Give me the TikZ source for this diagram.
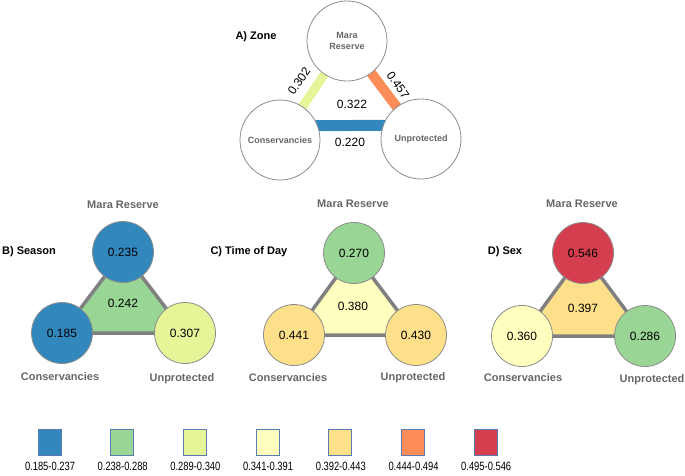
\documentclass[tikz,border=0pt]{standalone}
\usepackage{fontspec}
\setmainfont{Liberation Sans}
\usetikzlibrary{backgrounds}
\definecolor{cBlue}{HTML}{3288BD}
\definecolor{cGreen}{HTML}{99D594}
\definecolor{cYG}{HTML}{E6F598}
\definecolor{cLY}{HTML}{FFFFBF}
\definecolor{cY}{HTML}{FEE08B}
\definecolor{cOr}{HTML}{FC8D59}
\definecolor{cRed}{HTML}{D53E4F}
\definecolor{labGray}{HTML}{666666}
\definecolor{triGray}{HTML}{808080}
\definecolor{circGray}{HTML}{8C8C8C}
\definecolor{legBorder}{HTML}{5B7BB0}
\tikzset{
  circA/.style={circle, draw=circGray, line width=0.8pt, fill=white, minimum size=80pt, inner sep=0pt, align=center, font=\bfseries\fontsize{9}{10.5}\selectfont, text=labGray},
  circ/.style={circle, draw=circGray, line width=0.8pt, minimum size=61pt, inner sep=0pt, font=\fontsize{12}{14}\selectfont},
  lab/.style={font=\bfseries\fontsize{11}{13}\selectfont, text=labGray},
  ptitle/.style={font=\bfseries\fontsize{11}{13}\selectfont},
  val/.style={font=\fontsize{12}{14}\selectfont},
  tri/.style={draw=triGray, line width=3.5pt, line join=round},
  legbox/.style={draw=legBorder, line width=0.8pt, minimum width=23pt, minimum height=26pt, inner sep=0pt},
  leglab/.style={font=\fontsize{12}{14}\selectfont, xscale=0.78}
}
\begin{document}
\begin{tikzpicture}[x=1pt,y=-1pt]
\useasboundingbox (0,0) rectangle (685,475);
% ---------- Panel A ----------
\node[ptitle] (tA) at (256,37) {A) Zone};
\node[circA] (am) at (347,41) {Mara\\Reserve};
\node[circA] (ac) at (280,140) {Conservancies};
\node[circA] (au) at (421,139) {Unprotected};
\begin{pgfonlayer}{background}
\draw[cYG, line width=9pt] (ac.center) -- (am.center);
\draw[cOr, line width=10pt] (au.center) -- (am.center);
\draw[cBlue, line width=11pt] ([yshift=14pt]ac.center) -- ([yshift=14pt]au.center);
\end{pgfonlayer}
\node[val, rotate=55] (v302) at (299,81) {0.302};
\node[val, rotate=-55] (v457) at (398,85) {0.457};
\node[val] (v322) at (352,104) {0.322};
\node[val] (v220) at (350,142) {0.220};
% ---------- Panel B ----------
\node[ptitle] (tB) at (29,252) {B) Season};
\coordinate (bm0) at (123,252);
\coordinate (bc0) at (62,333);
\coordinate (bu0) at (185,333);
\filldraw[tri, fill=cGreen] (bm0) -- (bc0) -- (bu0) -- cycle;
\node[circ, fill=cBlue] (bm) at (bm0) {0.235};
\node[circ, fill=cBlue] (bc) at (bc0) {0.185};
\node[circ, fill=cYG] (bu) at (bu0) {0.307};
\node[val] (bv) at (123,303) {0.242};
\node[lab] (bml) at (123,205) {Mara Reserve};
\node[lab] (bcl) at (60,377) {Conservancies};
\node[lab] (bul) at (182,379) {Unprotected};
% ---------- Panel C ----------
\node[ptitle, anchor=west] (tC) at (207,252) {C) Time of Day};
\coordinate (cm0) at (354,253);
\coordinate (cc0) at (294,335);
\coordinate (cu0) at (416,335);
\filldraw[tri, fill=cLY] (cm0) -- (cc0) -- (cu0) -- cycle;
\node[circ, fill=cGreen] (cm) at (cm0) {0.270};
\node[circ, fill=cY] (cc) at (cc0) {0.441};
\node[circ, fill=cY] (cu) at (cu0) {0.430};
\node[val] (cv) at (353,306) {0.380};
\node[lab] (cml) at (353,204) {Mara Reserve};
\node[lab] (ccl) at (288,378) {Conservancies};
\node[lab] (cul) at (413,378) {Unprotected};
% ---------- Panel D ----------
\node[ptitle] (tD) at (505,252) {D) Sex};
\coordinate (dm0) at (583,253);
\coordinate (dc0) at (522,336);
\coordinate (du0) at (645,336);
\filldraw[tri, fill=cY] (dm0) -- (dc0) -- (du0) -- cycle;
\node[circ, fill=cRed] (dm) at (dm0) {0.546};
\node[circ, fill=cLY] (dc) at (dc0) {0.360};
\node[circ, fill=cGreen] (du) at (du0) {0.286};
\node[val] (dv) at (583,308) {0.397};
\node[lab] (dml) at (582,204) {Mara Reserve};
\node[lab] (dcl) at (523,378) {Conservancies};
\node[lab] (dul) at (652,380) {Unprotected};
% ---------- Legend ----------
\foreach \c/\t [count=\i from 0] in {cBlue/0.185-0.237, cGreen/0.238-0.288, cYG/0.289-0.340, cLY/0.341-0.391, cY/0.392-0.443, cOr/0.444-0.494, cRed/0.495-0.546}{
  \node[legbox, fill=\c] (lb\i) at ({49.5+72.7*\i},442) {};
  \node[leglab] (ll\i) at ({50+72.7*\i},466) {\t};
}
\end{tikzpicture}
\end{document}
